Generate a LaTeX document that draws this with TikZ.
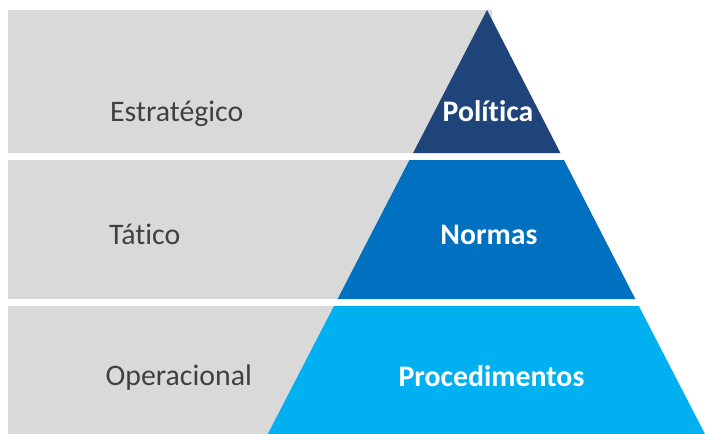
\documentclass[tikz,border=0pt]{standalone}
\usepackage{fontspec}
\setmainfont[Ligatures=NoCommon]{Carlito}
\definecolor{bandgray}{HTML}{D9D9D9}
\definecolor{labelgray}{HTML}{404040}
\definecolor{navy}{HTML}{1F4479}
\definecolor{midblue}{HTML}{0070C0}
\definecolor{lightblue}{HTML}{00B0F0}
\begin{document}
\begin{tikzpicture}[x=1pt,y=-1pt,
  band/.style={fill=bandgray,draw=none},
  levellabel/.style={anchor=base west,inner sep=0pt,text=labelgray,font=\fontsize{29.8}{32}\selectfont},
  tierlabel/.style={anchor=base,inner sep=0pt,text=white,font=\fontsize{29.8}{32}\selectfont\bfseries}]
\useasboundingbox (0,0) rectangle (705,434);
\fill[white] (0,0) rectangle (705,434);
% gray bands
\fill[band] (8,10) rectangle (492,153);
\fill[band] (8,160) rectangle (492,299);
\fill[band] (8,306) rectangle (492,434);
% pyramid tiers
\fill[navy] (487,10) -- (560.4,153) -- (413.1,153) -- cycle;
\fill[midblue] (409.4,160) -- (564,160) -- (635.3,299) -- (337.6,299) -- cycle;
\fill[lightblue] (334,306) -- (638.8,306) -- (705,434) -- (267.8,434) -- cycle;
% labels
\node[levellabel] (estr) at (110,121.7) {Estratégico};
\node[levellabel] (tat) at (109,244.3) {Tático};
\node[levellabel] (oper) at (105.5,385) {Operacional};
\node[tierlabel] (pol) at (488,121.7) {Política};
\node[tierlabel] (norm) at (489,244.3) {Normas};
\node[tierlabel] (proc) at (491.5,386) {Procedimentos};
\end{tikzpicture}
\end{document}
